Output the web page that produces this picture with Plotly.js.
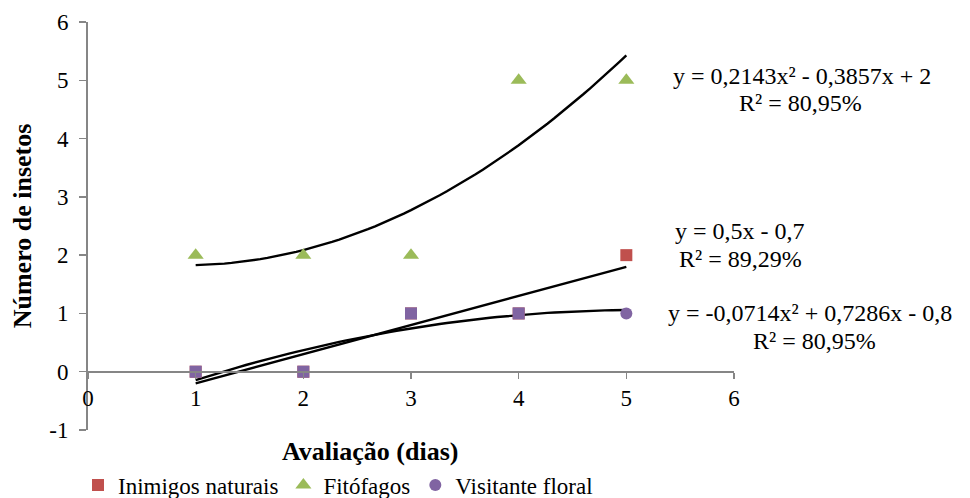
<!DOCTYPE html>
<html>
<head>
<meta charset="utf-8">
<script src="https://cdn.plot.ly/plotly-3.0.1.min.js"></script>
<style>
html,body{margin:0;padding:0;background:#fff;}
#chart{width:970px;height:498px;}
</style>
</head>
<body>
<div id="chart"></div>
<script>
// Data
const dias = [1, 2, 3, 4, 5];
const inimigosNaturais = [0, 0, 1, 1, 2];
const fitofagos = [2, 2, 2, 5, 5];
const visitanteFloral = [0, 0, 1, 1, 1];

// Trendline coefficients as printed on the chart [a2, a1, a0]
const coefFitofagos = [0.2143, -0.3857, 2];
const coefInimigos = [0, 0.5, -0.7];
const coefVisitante = [-0.0714, 0.7286, -0.8];

const eqFitofagos = ["y = 0,2143x² - 0,3857x + 2", "R² = 80,95%"];
const eqInimigos = ["y = 0,5x - 0,7", "R² = 89,29%"];
const eqVisitante = ["y = -0,0714x² + 0,7286x - 0,8", "R² = 80,95%"];

const xTicks = [0, 1, 2, 3, 4, 5, 6];
const yTicks = [-1, 0, 1, 2, 3, 4, 5, 6];

function trend(c) {
  const xs = [], ys = [];
  const x0 = dias[0], x1 = dias[dias.length - 1];
  for (let i = 0; i <= 60; i++) {
    const x = x0 + (x1 - x0) * i / 60;
    xs.push(x);
    ys.push(c[0] * x * x + c[1] * x + c[2]);
  }
  return {x: xs, y: ys};
}

const font = "Liberation Serif";
const red = "#C0504D", green = "#9BBB59", purple = "#8064A2";

const tF = trend(coefFitofagos), tI = trend(coefInimigos), tV = trend(coefVisitante);
const lineStyle = {color: "#000", width: 2.4};

const traces = [
  {x: tF.x, y: tF.y, mode: "lines", line: lineStyle, showlegend: false, hoverinfo: "skip"},
  {x: tI.x, y: tI.y, mode: "lines", line: lineStyle, showlegend: false, hoverinfo: "skip"},
  {x: tV.x, y: tV.y, mode: "lines", line: lineStyle, showlegend: false, hoverinfo: "skip"},
  {x: dias, y: inimigosNaturais, mode: "markers", name: "Inimigos naturais",
   marker: {symbol: "square", size: 12, color: red}},
  {x: dias, y: fitofagos, mode: "markers", name: "Fitófagos",
   marker: {symbol: "triangle-up", size: 14, color: green}},
  {x: dias, y: visitanteFloral, mode: "markers", name: "Visitante floral", showlegend: false,
   marker: {symbol: ["square", "square", "square", "square", "circle"], size: 12, color: purple}},
  {x: [null], y: [null], mode: "markers", name: "Visitante floral",
   marker: {symbol: "circle", size: 12, color: purple}}
];

function eqAnn(lines, x1, y1, x2, y2) {
  return [
    {xref: "paper", yref: "paper", x: x1, y: y1, text: lines[0], showarrow: false, xanchor: "center", yanchor: "middle", font: {family: font, size: 24, color: "#000"}},
    {xref: "paper", yref: "paper", x: x2, y: y2, text: lines[1], showarrow: false, xanchor: "center", yanchor: "middle", font: {family: font, size: 24, color: "#000"}}
  ];
}
// pixel helpers: plot area l=88, w=646, t=22, h=408
const px = p => (p - 88) / 646;
const py = p => (430 - p) / 408;

const annotations = [].concat(
  eqAnn(eqFitofagos, px(802), py(76), px(800), py(103)),
  eqAnn(eqInimigos, px(740), py(231), px(741), py(259)),
  eqAnn(eqVisitante, px(810), py(313), px(814), py(341)),
  [{xref: "paper", yref: "paper", x: px(370), y: py(451), text: "<b>Avaliação (dias)</b>", showarrow: false,
    xanchor: "center", yanchor: "middle", font: {family: font, size: 26, color: "#000"}}]
);

const layout = {
  width: 970, height: 498,
  margin: {l: 88, r: 236, t: 22, b: 68, autoexpand: false},
  paper_bgcolor: "#fff", plot_bgcolor: "#fff",
  font: {family: font, color: "#000"},
  xaxis: {
    range: [0, 6], tickvals: xTicks, ticktext: xTicks.map(String),
    showgrid: false, zeroline: false, showline: true, linecolor: "#868686", linewidth: 2,
    ticks: "outside", ticklen: 6, tickcolor: "#868686", tickwidth: 1.5,
    anchor: "free", position: 1 / 7,
    tickfont: {family: font, size: 23, color: "#000"}
  },
  yaxis: {
    range: [-1, 6], tickvals: yTicks, ticktext: yTicks.map(String),
    showgrid: false, zeroline: false, showline: true, linecolor: "#868686", linewidth: 2,
    ticks: "outside", ticklen: 7, tickcolor: "#868686", tickwidth: 1.5,
    ticklabelstandoff: 6,
    tickfont: {family: font, size: 23, color: "#000"},
    title: {text: "<b>Número de insetos</b>", font: {family: font, size: 26, color: "#000"}, standoff: 10}
  },
  showlegend: true,
  legend: {orientation: "h", x: px(78), y: py(485), xanchor: "left", yanchor: "middle",
    font: {family: font, size: 23, color: "#000"}, itemwidth: 30, tracegroupgap: 0,
    bgcolor: "rgba(0,0,0,0)"},
  annotations: annotations
};

Plotly.newPlot("chart", traces, layout, {displayModeBar: false, staticPlot: true});
</script>
</body>
</html>
